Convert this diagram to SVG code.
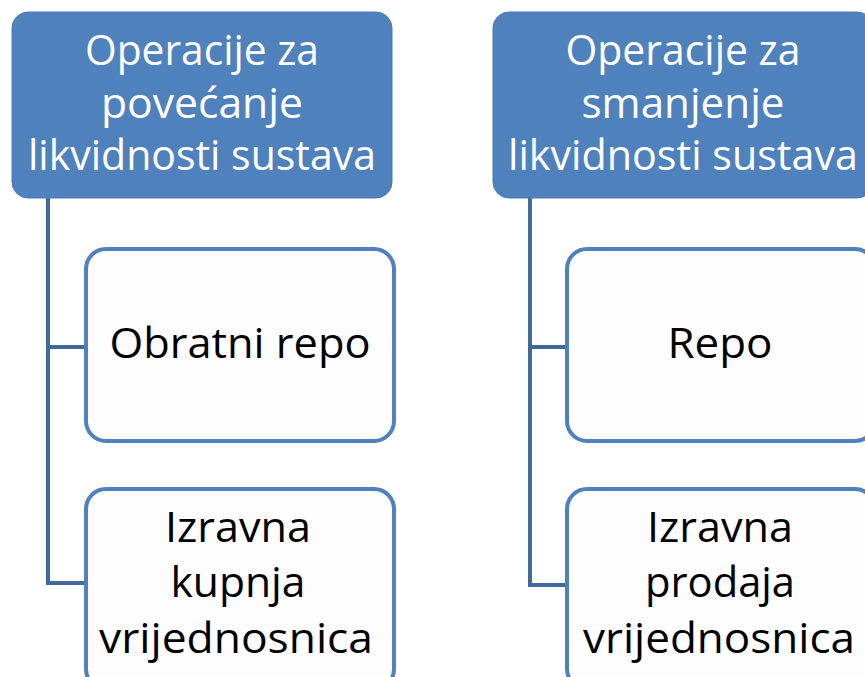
<svg xmlns="http://www.w3.org/2000/svg" width="865" height="677" viewBox="0 0 865 677">
<style>
.hdr{fill:#4F81BD;stroke:#4A7AB5;stroke-width:1}
.child{fill:#FDFDFD;stroke:#4F81BD;stroke-width:4}
.conn{fill:none;stroke:#41699E;stroke-width:4}
.ht{font-family:"Open Sans","Noto Sans",sans-serif;font-size:42px;fill:#FFFFFF;text-anchor:middle}
.ct{font-family:"Open Sans","Noto Sans",sans-serif;font-size:42px;fill:#000000;text-anchor:middle}
</style>
<rect width="865" height="677" fill="#FFFFFF"/>
<g id="connectors">
<path class="conn" d="M48,198 V583 H86 M48,347 H86"/>
<path class="conn" d="M530,198 V585 H567 M530,347 H567"/>
</g>
<g id="hdr-left">
<rect class="hdr" x="12" y="12" width="380" height="186" rx="16"/>
<text class="ht" x="202" y="65" textLength="234" lengthAdjust="spacingAndGlyphs">Operacije za</text>
<text class="ht" x="202" y="118" textLength="202" lengthAdjust="spacingAndGlyphs">povećanje</text>
<text class="ht" x="202" y="170" textLength="348" lengthAdjust="spacingAndGlyphs">likvidnosti sustava</text>
</g>
<g id="hdr-right">
<rect class="hdr" x="493" y="12" width="380" height="186" rx="16"/>
<text class="ht" x="683" y="65" textLength="235" lengthAdjust="spacingAndGlyphs">Operacije za</text>
<text class="ht" x="683" y="118" textLength="203" lengthAdjust="spacingAndGlyphs">smanjenje</text>
<text class="ht" x="683" y="170" textLength="350" lengthAdjust="spacingAndGlyphs">likvidnosti sustava</text>
</g>
<g id="child-obratni">
<rect class="child" x="86" y="249" width="308" height="192" rx="20"/>
<text class="ct" x="240" y="358" textLength="261" lengthAdjust="spacingAndGlyphs">Obratni repo</text>
</g>
<g id="child-kupnja">
<rect class="child" x="86" y="489" width="308" height="200" rx="20"/>
<text class="ct" x="238" y="542" textLength="146" lengthAdjust="spacingAndGlyphs">Izravna</text>
<text class="ct" x="238" y="597" textLength="135" lengthAdjust="spacingAndGlyphs">kupnja</text>
<text class="ct" x="236" y="653" textLength="274" lengthAdjust="spacingAndGlyphs">vrijednosnica</text>
</g>
<g id="child-repo">
<rect class="child" x="567" y="249" width="308" height="192" rx="20"/>
<text class="ct" x="720" y="358" textLength="105" lengthAdjust="spacingAndGlyphs">Repo</text>
</g>
<g id="child-prodaja">
<rect class="child" x="567" y="489" width="308" height="200" rx="20"/>
<text class="ct" x="720" y="542" textLength="146" lengthAdjust="spacingAndGlyphs">Izravna</text>
<text class="ct" x="720" y="597" textLength="150" lengthAdjust="spacingAndGlyphs">prodaja</text>
<text class="ct" x="719" y="653" textLength="272" lengthAdjust="spacingAndGlyphs">vrijednosnica</text>
</g>
</svg>
